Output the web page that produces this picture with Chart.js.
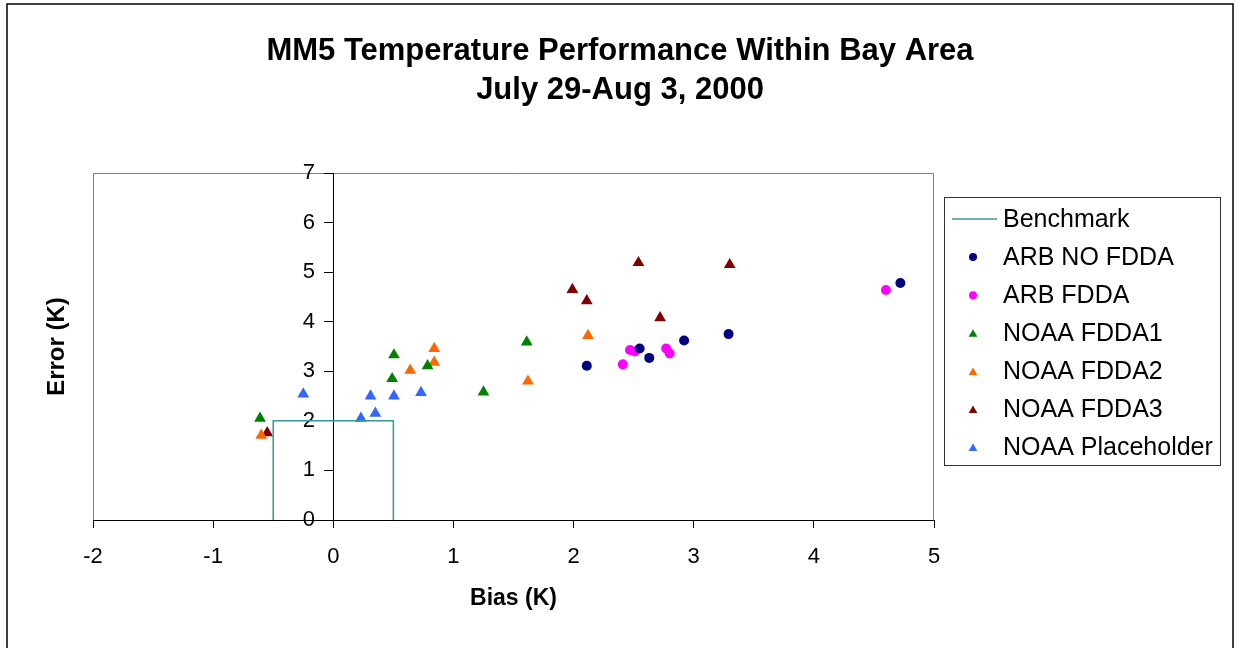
<!DOCTYPE html>
<html>
<head>
<meta charset="utf-8">
<title>MM5 Temperature Performance</title>
<script src="https://cdn.jsdelivr.net/npm/chart.js@4"></script>
<style>
  html, body { margin: 0; padding: 0; background: #fff; }
</style>
</head>
<body>
<canvas id="chartBias" width="1236" height="648"></canvas>
<script>
const FONT = '"Liberation Sans", Arial, sans-serif';

const titleLines = ['MM5 Temperature Performance Within Bay Area', 'July 29-Aug 3, 2000'];
const xTitle = 'Bias (K)';
const yTitle = 'Error (K)';

// benchmark box: |bias| <= 0.5 K, error <= 2 K
const benchBias = [-0.5, -0.5, 0.5, 0.5];
const benchErr = [0, 2, 2, 0];

const arbNoFddaBias = [2.11, 2.55, 2.63, 2.92, 3.29, 4.72];
const arbNoFddaErr = [3.11, 3.46, 3.27, 3.62, 3.75, 4.78];

const arbFddaBias = [2.41, 2.47, 2.51, 2.77, 2.80, 4.60];
const arbFddaErr = [3.14, 3.43, 3.40, 3.46, 3.36, 4.64];

const noaa1Bias = [-0.61, 0.49, 0.505, 0.785, 1.25, 1.61];
const noaa1Err = [2.05, 2.85, 3.33, 3.11, 2.58, 3.59];

const noaa2Bias = [-0.60, 0.64, 0.84, 0.84, 1.62, 2.12];
const noaa2Err = [1.71, 3.02, 3.46, 3.18, 2.80, 3.72];

const noaa3Bias = [-0.55, 1.99, 2.11, 2.54, 2.72, 3.30];
const noaa3Err = [1.76, 4.65, 4.42, 5.19, 4.08, 5.15];

const placeBias = [-0.25, 0.23, 0.31, 0.35, 0.505, 0.73];
const placeErr = [2.54, 2.05, 2.50, 2.15, 2.50, 2.57];

function pts(xs, ys) {
    return xs.map((x, i) => ({ x: x, y: ys[i] }));
}

function markerSet(label, xs, ys, color, style) {
    const r = style === 'circle' ? 5 : 6.8;
    return {
        label: label,
        data: pts(xs, ys),
        showLine: false,
        pointStyle: style,
        pointRadius: r,
        pointHoverRadius: r,
        backgroundColor: color,
        borderColor: color,
        pointBorderWidth: 0
    };
}

// title, y title, frames and the boxed legend
const decorations = {
    id: 'decorations',
    beforeDraw(chart) {
        const ctx = chart.ctx;
        const a = chart.chartArea;
        ctx.save();
        ctx.strokeStyle = '#000';
        ctx.lineWidth = 1.5;
        ctx.strokeRect(7, 4, 1226, 700);

        ctx.strokeStyle = '#808080';
        ctx.lineWidth = 1;
        ctx.beginPath();
        ctx.moveTo(a.left + 0.5, a.bottom);
        ctx.lineTo(a.left + 0.5, a.top + 0.5);
        ctx.lineTo(a.right - 0.5, a.top + 0.5);
        ctx.lineTo(a.right - 0.5, a.bottom);
        ctx.stroke();

        ctx.fillStyle = '#000';
        ctx.textAlign = 'center';
        ctx.textBaseline = 'middle';
        ctx.font = 'bold 31px ' + FONT;
        titleLines.forEach((t, i) => ctx.fillText(t, 620, 51 + i * 39));

        ctx.translate(57, (a.top + a.bottom) / 2);
        ctx.rotate(-Math.PI / 2);
        ctx.font = 'bold 24px ' + FONT;
        ctx.fillText(yTitle, 0, 0);
        ctx.restore();
    },
    afterDraw(chart) {
        const ctx = chart.ctx;
        const box = { left: 944, top: 197, width: 276, height: 268 };
        ctx.save();
        ctx.fillStyle = '#fff';
        ctx.fillRect(box.left, box.top, box.width, box.height);
        ctx.strokeStyle = '#333';
        ctx.lineWidth = 1;
        ctx.strokeRect(box.left + 0.5, box.top + 0.5, box.width, box.height);

        ctx.font = '25px ' + FONT;
        ctx.textAlign = 'left';
        ctx.textBaseline = 'middle';
        chart.data.datasets.forEach((ds, i) => {
            const y = 219 + i * 38.1;
            if (ds.showLine) {
                ctx.strokeStyle = ds.borderColor;
                ctx.lineWidth = 1.5;
                ctx.beginPath();
                ctx.moveTo(952, y);
                ctx.lineTo(997, y);
                ctx.stroke();
            } else {
                ctx.fillStyle = ds.backgroundColor;
                Chart.helpers.drawPoint(ctx, {
                    pointStyle: ds.pointStyle,
                    radius: ds.pointStyle === 'circle' ? 4 : 5,
                    rotation: 0,
                    borderWidth: 0
                }, 973, ds.pointStyle === 'circle' ? y : y + 1);
            }
            ctx.fillStyle = '#000';
            ctx.fillText(ds.label, 1003, y + 1);
        });
        ctx.restore();
    }
};

new Chart(document.getElementById('chartBias'), {
    type: 'scatter',
    data: {
        datasets: [
            {
                label: 'Benchmark',
                data: pts(benchBias, benchErr),
                showLine: true,
                borderColor: '#339999',
                backgroundColor: '#339999',
                borderWidth: 1.5,
                pointRadius: 0,
                pointHoverRadius: 0,
                tension: 0,
                fill: false
            },
            markerSet('ARB NO FDDA', arbNoFddaBias, arbNoFddaErr, '#000080', 'circle'),
            markerSet('ARB FDDA', arbFddaBias, arbFddaErr, '#FF00FF', 'circle'),
            markerSet('NOAA FDDA1', noaa1Bias, noaa1Err, '#008000', 'triangle'),
            markerSet('NOAA FDDA2', noaa2Bias, noaa2Err, '#FF6600', 'triangle'),
            markerSet('NOAA FDDA3', noaa3Bias, noaa3Err, '#800000', 'triangle'),
            markerSet('NOAA Placeholder', placeBias, placeErr, '#3366FF', 'triangle')
        ]
    },
    options: {
        responsive: false,
        animation: false,
        devicePixelRatio: 1,
        layout: { padding: { left: 93, right: 302, top: 173, bottom: 0 } },
        plugins: {
            legend: { display: false },
            title: { display: false },
            tooltip: { enabled: false }
        },
        scales: {
            x: {
                type: 'linear',
                min: -2,
                max: 5,
                position: 'bottom',
                ticks: { stepSize: 1, color: '#000', padding: 16, font: { family: FONT, size: 22 } },
                grid: { drawOnChartArea: false, drawTicks: true, tickLength: 8, color: '#000' },
                border: { color: '#000', width: 1 },
                title: {
                    display: true,
                    text: xTitle,
                    color: '#000',
                    font: { family: FONT, size: 23, weight: 'bold' },
                    padding: { top: 0, bottom: 36 }
                },
                afterFit: scale => { scale.height = 128; }
            },
            y: {
                type: 'linear',
                min: 0,
                max: 7,
                position: { x: 0 },
                ticks: {
                    stepSize: 1,
                    color: '#000',
                    font: { family: FONT, size: 22 },
                    // an axis crossing at x = 0 right-aligns labels on the line itself,
                    // so pad them clear of the tick marks
                    callback: v => v + '\u2007 '
                },
                grid: { drawOnChartArea: false, drawTicks: true, tickLength: 9, color: '#000' },
                border: { color: '#000', width: 1 }
            }
        }
    },
    plugins: [decorations]
});
</script>
</body>
</html>
